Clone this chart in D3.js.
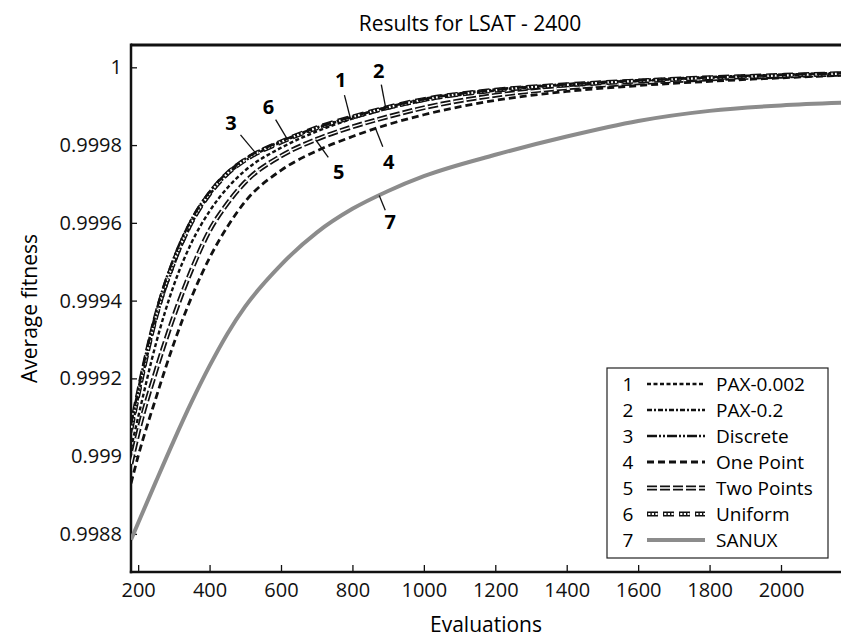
<!DOCTYPE html>
<html>
<head>
<meta charset="utf-8">
<script src="https://cdn.jsdelivr.net/npm/d3@7.9.0/dist/d3.min.js"></script>
<style>
  body { margin: 0; background: #fff; }
  svg { font-family: "Open Sans", "Noto Sans", sans-serif; }
</style>
</head>
<body>
<div id="vis"></div>
<script>
// data
const evals = [180, 200, 250, 300, 350, 400, 450, 500, 600, 700, 800, 900, 1000, 1200, 1400, 1600, 1800, 2000, 2180];

const pax002 = [0.99902, 0.9991, 0.99929, 0.99944, 0.99955, 0.99963, 0.99969, 0.999735, 0.999793, 0.999835, 0.999868, 0.999894, 0.999914, 0.99994, 0.999955, 0.999965, 0.999973, 0.999979, 0.999984];
const pax02 = [0.99906, 0.99915, 0.99935, 0.99949, 0.999598, 0.999672, 0.999724, 0.99976, 0.999807, 0.999843, 0.999872, 0.999898, 0.999919, 0.999943, 0.999957, 0.999967, 0.999975, 0.999981, 0.999986];
const discrete = [0.99908, 0.99917, 0.99937, 0.99951, 0.99961, 0.99968, 0.99973, 0.999765, 0.99981, 0.999845, 0.999873, 0.999898, 0.999918, 0.999942, 0.999956, 0.999966, 0.999974, 0.99998, 0.999985];
const onePoint = [0.99893, 0.999, 0.99915, 0.99929, 0.99941, 0.99951, 0.99959, 0.999655, 0.999735, 0.999785, 0.999822, 0.999853, 0.999878, 0.999915, 0.999938, 0.999953, 0.999964, 0.999973, 0.99998];
const twoPoints = [0.99898, 0.99906, 0.99922, 0.99936, 0.99948, 0.99958, 0.99965, 0.999705, 0.999772, 0.999815, 0.999847, 0.999873, 0.999896, 0.999928, 0.999947, 0.99996, 0.99997, 0.999977, 0.999983];
const uniform = [0.99907, 0.99916, 0.99936, 0.9995, 0.999603, 0.999675, 0.999727, 0.999762, 0.999808, 0.999844, 0.999872, 0.999897, 0.999917, 0.999941, 0.999955, 0.999965, 0.999973, 0.999979, 0.999984];
const sanux = [0.998785, 0.998828, 0.998935, 0.99904, 0.99914, 0.999232, 0.999315, 0.999385, 0.999492, 0.999575, 0.999636, 0.999682, 0.99972, 0.999775, 0.999822, 0.999862, 0.999888, 0.999902, 0.999909];

const names = ["PAX-0.002", "PAX-0.2", "Discrete", "One Point", "Two Points", "Uniform", "SANUX"];
const xTicks = [200, 400, 600, 800, 1000, 1200, 1400, 1600, 1800, 2000];
const yTicks = [0.9988, 0.999, 0.9992, 0.9994, 0.9996, 0.9998, 1];

const width = 841;
const height = 639;
const margin = { top: 45, right: 0, bottom: 67, left: 131 };

const xScale = d3.scaleLinear()
  .domain([180, 2168])
  .range([margin.left, width - margin.right]);
const yScale = d3.scaleLinear()
  .domain([0.998702, 1.0000574])
  .range([height - margin.bottom, margin.top]);

const svg = d3.select("#vis")
  .append("svg")
  .attr("width", width)
  .attr("height", height);

svg.append("defs")
  .append("clipPath")
  .attr("id", "plot-clip")
  .append("rect")
  .attr("x", margin.left)
  .attr("y", margin.top)
  .attr("width", width - margin.left - margin.right)
  .attr("height", height - margin.top - margin.bottom);

// title and axis titles
svg.append("text")
  .attr("x", 470)
  .attr("y", 31)
  .attr("text-anchor", "middle")
  .attr("font-size", 21)
  .text("Results for LSAT - 2400");

svg.append("text")
  .attr("x", (margin.left + width) / 2)
  .attr("y", 632)
  .attr("text-anchor", "middle")
  .attr("font-size", 21)
  .text("Evaluations");

svg.append("text")
  .attr("transform", `translate(37,${(margin.top + height - margin.bottom) / 2}) rotate(-90)`)
  .attr("text-anchor", "middle")
  .attr("font-size", 21)
  .text("Average fitness");

// axes, ticks pointing inward
const xAxis = svg.append("g")
  .attr("transform", `translate(0,${height - margin.bottom})`)
  .call(d3.axisBottom(xScale).tickValues(xTicks).tickFormat(d3.format("d")).tickSizeInner(-7).tickSizeOuter(0).tickPadding(11));
const yAxis = svg.append("g")
  .attr("transform", `translate(${margin.left},0)`)
  .call(d3.axisLeft(yScale).tickValues(yTicks).tickSizeInner(-6).tickSizeOuter(0).tickPadding(9));

[xAxis, yAxis].forEach((g) => {
  g.select(".domain").remove();
  g.selectAll("text").attr("font-size", 20).attr("font-family", "Open Sans").attr("fill", "#111");
  g.selectAll("line").attr("stroke", "#111").attr("stroke-width", 1.3);
});
yAxis.selectAll("text").text((d) => String(+d.toFixed(4)));

// frame
svg.append("line")
  .attr("x1", margin.left).attr("x2", width)
  .attr("y1", margin.top).attr("y2", margin.top)
  .attr("stroke", "#111").attr("stroke-width", 3);
svg.append("line")
  .attr("x1", margin.left).attr("x2", margin.left)
  .attr("y1", margin.top - 1.5).attr("y2", height - margin.bottom + 1.2)
  .attr("stroke", "#111").attr("stroke-width", 2.5);
svg.append("line")
  .attr("x1", margin.left - 1.2).attr("x2", width)
  .attr("y1", height - margin.bottom).attr("y2", height - margin.bottom)
  .attr("stroke", "#111").attr("stroke-width", 2.5);

// line styles; each style is a list of stacked strokes
const styles = [
  [{ stroke: "#111", width: 2.4, dash: "4,2.5" }],
  [{ stroke: "#111", width: 2.4, dash: "5,2,2,2" }],
  [{ stroke: "#111", width: 2.5, dash: "10,2,2,2,2,2" }],
  [{ stroke: "#111", width: 2.8, dash: "7,4" }],
  [{ stroke: "#111", width: 4.8, dash: "10,3" }, { stroke: "#fff", width: 1.4, dash: "10,3" }],
  [{ stroke: "#111", width: 5, dash: "11,5" }, { stroke: "#fff", width: 2.2, dash: "2.2,1.4,2.2,1.4,2.2,6.6", offset: -1.2 }],
  [{ stroke: "#8c8c8c", width: 4, dash: null }],
];
const seriesList = [pax002, pax02, discrete, onePoint, twoPoints, uniform, sanux];

const line = d3.line()
  .x((d) => xScale(d[0]))
  .y((d) => yScale(d[1]))
  .curve(d3.curveMonotoneX);

const plot = svg.append("g").attr("clip-path", "url(#plot-clip)");
const drawOrder = [6, 3, 4, 0, 1, 5, 2];
drawOrder.forEach((i) => {
  const pts = evals.map((e, k) => [e, seriesList[i][k]]);
  styles[i].forEach((s) => {
    plot.append("path")
      .attr("d", line(pts))
      .attr("fill", "none")
      .attr("stroke", s.stroke)
      .attr("stroke-width", s.width)
      .attr("stroke-dasharray", s.dash)
      .attr("stroke-dashoffset", s.offset || 0);
  });
});

// numbered callouts: series index, evaluation where the leader touches, label offset (to baseline)
const callouts = [
  { idx: 2, at: 530, dx: -25, dy: -23 },
  { idx: 5, at: 618, dx: -19, dy: -25 },
  { idx: 0, at: 795, dx: -10, dy: -32 },
  { idx: 1, at: 893, dx: -7, dy: -30 },
  { idx: 4, at: 697, dx: 23, dy: 39 },
  { idx: 3, at: 865, dx: 13, dy: 40 },
  { idx: 6, at: 875, dx: 11, dy: 34 },
];
function valueAt(series, v) {
  return d3.scaleLinear().domain(evals).range(series)(v);
}
callouts.forEach((c) => {
  const px = xScale(c.at);
  const py = yScale(valueAt(seriesList[c.idx], c.at));
  const tx = px + c.dx;
  const ty = py + c.dy;
  const cy = ty - 7;
  const f = c.dy < 0 ? 0.62 : 0.55;
  svg.append("line")
    .attr("x1", px).attr("y1", py)
    .attr("x2", px + (tx - px) * f).attr("y2", py + (cy - py) * f)
    .attr("stroke", "#111").attr("stroke-width", 1.3);
  svg.append("text")
    .attr("x", tx)
    .attr("y", ty)
    .attr("text-anchor", "middle")
    .attr("font-size", 20)
    .attr("font-weight", "bold")
    .text(c.idx + 1);
});

// legend
const legend = svg.append("g");
legend.append("rect")
  .attr("x", 607).attr("y", 368)
  .attr("width", 221).attr("height", 190)
  .attr("fill", "#fff")
  .attr("stroke", "#222")
  .attr("stroke-width", 1.2);
names.forEach((name, i) => {
  const cy = 384 + i * 26;
  legend.append("text")
    .attr("x", 628).attr("y", cy + 7)
    .attr("text-anchor", "middle")
    .attr("font-size", 19)
    .text(i + 1);
  styles[i].forEach((s) => {
    legend.append("line")
      .attr("x1", 647).attr("x2", 705)
      .attr("y1", cy).attr("y2", cy)
      .attr("stroke", s.stroke)
      .attr("stroke-width", s.width)
      .attr("stroke-dasharray", s.dash)
      .attr("stroke-dashoffset", s.offset || 0);
  });
  legend.append("text")
    .attr("x", 716).attr("y", cy + 7)
    .attr("font-size", 19)
    .text(name);
});
</script>
</body>
</html>
